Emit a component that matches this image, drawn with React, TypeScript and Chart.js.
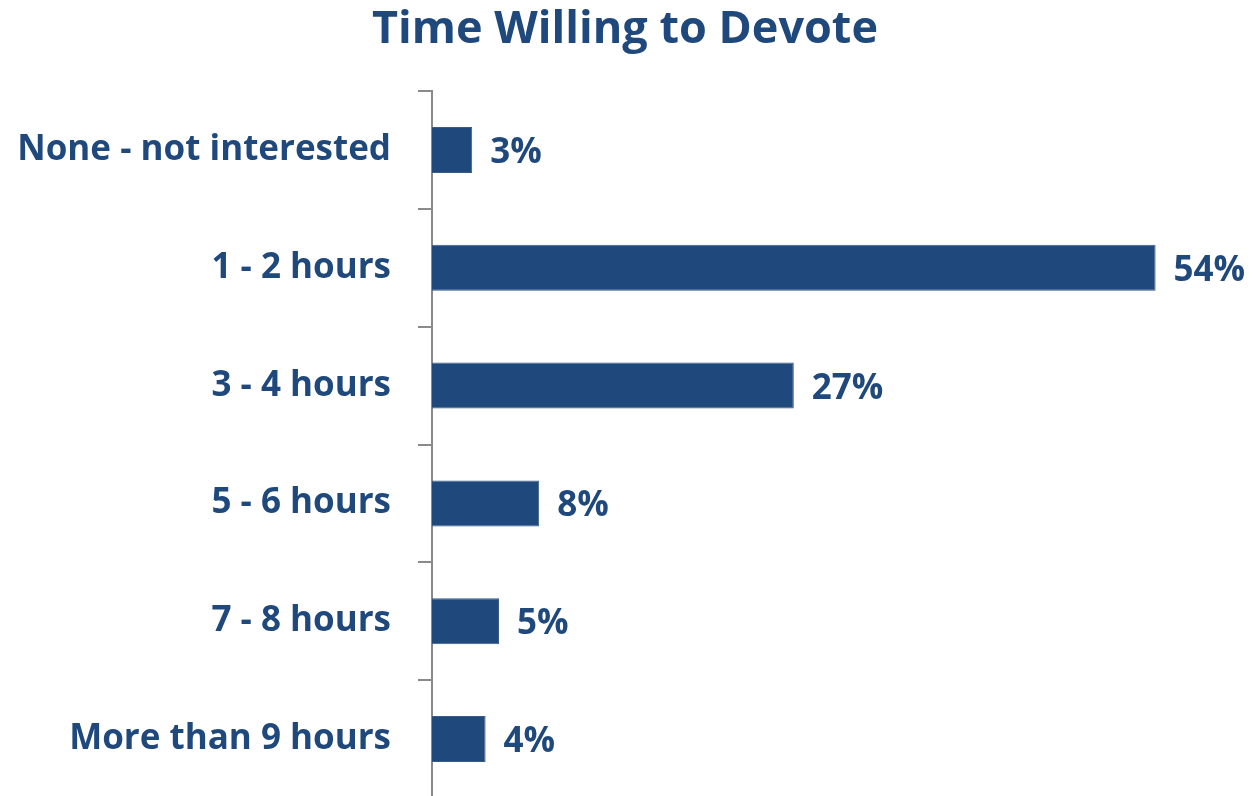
import React, { useEffect, useRef } from "react";
import { Chart, registerables } from "chart.js";

Chart.register(...registerables);

const categories = [
  "None - not interested",
  "1 - 2 hours",
  "3 - 4 hours",
  "5 - 6 hours",
  "7 - 8 hours",
  "More than 9 hours",
];
const values = [3, 54, 27, 8, 5, 4];
const titleText = "Time Willing to Devote";

const BLUE = "#1F497D";
const FONT = "'Open Sans', 'Noto Sans', sans-serif";

const valueLabels = {
  id: "valueLabels",
  afterDatasetsDraw(chart: any) {
    const ctx = chart.ctx;
    const meta = chart.getDatasetMeta(0);
    ctx.save();
    ctx.fillStyle = BLUE;
    ctx.font = `bold 35px ${FONT}`;
    ctx.textAlign = "left";
    ctx.textBaseline = "middle";
    meta.data.forEach((bar: any, i: number) => {
      ctx.fillText(values[i] + "%", bar.x + 18, bar.y + 3);
    });
    ctx.restore();
  },
};

export default function App() {
  const ref = useRef<HTMLCanvasElement>(null);
  useEffect(() => {
    document.body.style.margin = "0";
    const chart = new Chart(ref.current!, {
      type: "bar",
      data: {
        labels: categories,
        datasets: [
          {
            data: values,
            backgroundColor: BLUE,
            borderColor: "#3a5a86",
            borderWidth: 1,
            barPercentage: 0.39,
            categoryPercentage: 1,
          },
        ],
      },
      options: {
        indexAxis: "y",
        responsive: false,
        animation: false,
        layout: { padding: { left: 14, right: 17, top: 0, bottom: 4 } },
        plugins: {
          legend: { display: false },
          tooltip: { enabled: false },
          title: {
            display: true,
            text: titleText,
            color: BLUE,
            font: { family: FONT, size: 45, weight: "bold" },
            padding: { top: 3, bottom: 34 },
          },
        },
        scales: {
          x: {
            display: false,
            min: 0,
            max: 60,
          },
          y: {
            afterFit(scale: any) {
              scale.width = 418;
              scale.paddingTop = 0;
              scale.paddingBottom = 0;
            },
            border: { display: true, color: "#8a8a8a", width: 2 },
            grid: {
              display: true,
              drawOnChartArea: false,
              drawTicks: true,
              tickLength: 14,
              color: "#8a8a8a",
              lineWidth: 2,
              offset: true,
            },
            ticks: {
              color: BLUE,
              padding: 27,
              font: { family: FONT, size: 35, weight: "bold" },
            },
          },
        },
      },
      plugins: [valueLabels],
    });
    return () => chart.destroy();
  }, []);
  return (
    <div style={{ position: "fixed", left: 0, top: 0, width: 1253, height: 796, overflow: "hidden", background: "#fff" }}>
      <canvas ref={ref} width={1253} height={802} style={{ display: "block" }} />
    </div>
  );
}
